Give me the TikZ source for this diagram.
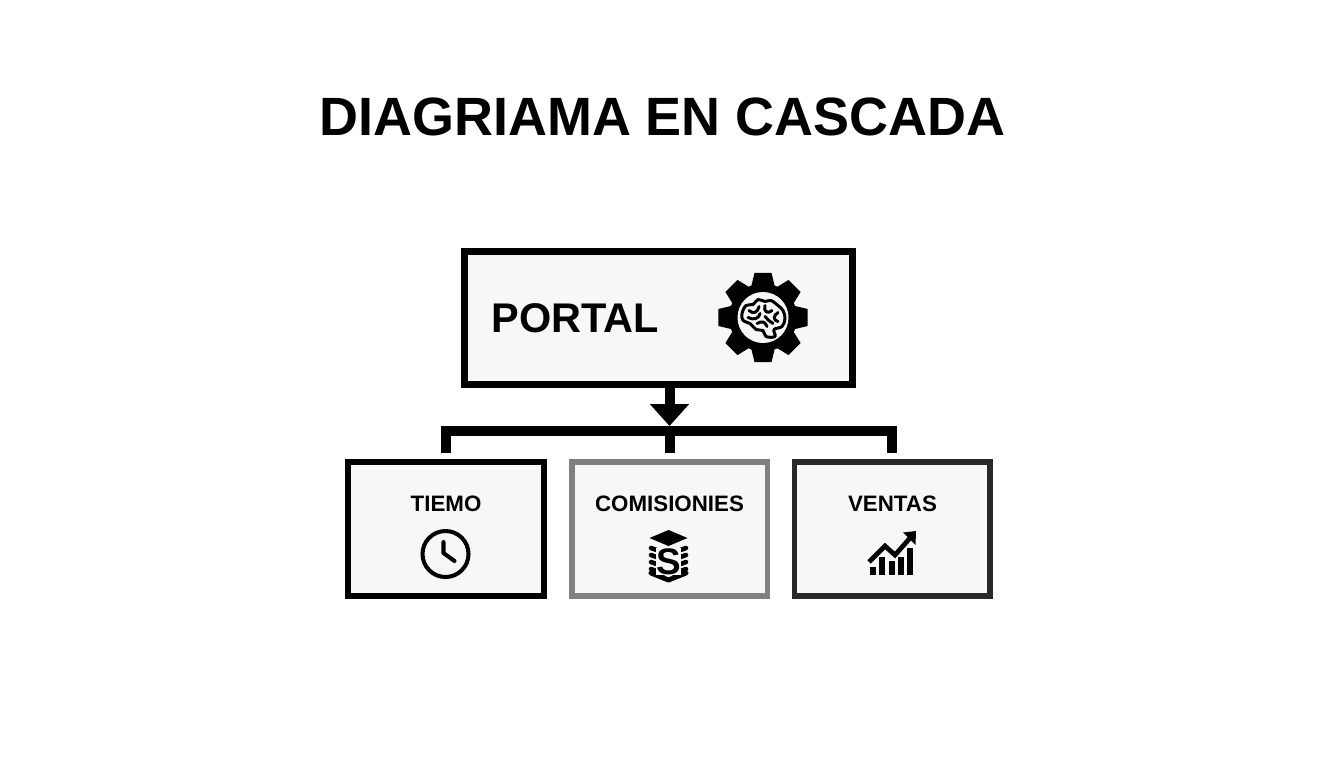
\documentclass[tikz,border=0pt]{standalone}
\usepackage{fontspec}
\setmainfont{Liberation Sans}
\usetikzlibrary{arrows.meta,positioning}
\definecolor{boxfill}{HTML}{F7F7F6}
\tikzset{>={Triangle[width=0.76cm,length=0.44cm]},
  main box/.style={draw=black,fill=boxfill,line width=4pt,minimum width=7.76cm,minimum height=2.66cm,inner sep=0pt},
  sub box/.style={draw=black,fill=boxfill,line width=3.4pt,minimum width=3.92cm,minimum height=2.68cm,inner sep=0pt},
  sub label/.style={inner sep=0pt,font=\fontsize{12.7}{14}\selectfont\bfseries},
  bus/.style={line width=0.2cm,draw=black},
  icon/.style={line width=2.3pt,draw=black,line cap=round,line join=round},
  brain line/.style={icon,line width=1.7pt}}

\begin{document}
\begin{tikzpicture}[x=0.02cm,y=-0.02cm]
    \useasboundingbox (0,0) rectangle (1344,768);
    \node[inner sep=0pt,font=\fontsize{30.7}{36}\selectfont\bfseries] (title) at (662.5,117) {DIAGRIAMA EN CASCADA};
    \node[main box] (portal) at (658.5,318) {};
    \node[sub box, on grid] (comisiones) [below right = 4.22cm and 0.22cm of portal, draw=black!50] {};
    \node[sub box, on grid] (tiemo) [left = 4.47cm of comisiones] {};
    \node[sub box, on grid] (ventas) [right = 4.46cm of comisiones, draw=black!84] {};
    \node[inner sep=0pt,anchor=west,font=\fontsize{23.6}{28}\selectfont\bfseries] (portal label) [right = 0.6cm of portal.west] {PORTAL};
    \node[sub label] (tiemo label) [below = 0.74cm of tiemo.north] {TIEMO};
    \node[sub label] (comisiones label) [below = 0.74cm of comisiones.north] {COMISIONIES};
    \node[sub label] (ventas label) [below = 0.74cm of ventas.north] {VENTAS};
    \coordinate[above = 0.56cm of comisiones.north] (busc);
    \coordinate[above = 0.1cm of busc] (bustop);
    \draw[bus,shorten <=0.12cm,shorten >=0.12cm] (tiemo.north) |- (busc) -| (ventas.north);
    \draw[bus,shorten >=0.12cm] (busc) -- (comisiones.north);
    \draw[bus,->] (portal.south -| busc) -- (bustop);
    \begin{scope}[shift={(763,317.5)}]
      \foreach \a in {0,45,...,315}
        \fill[rotate=\a] (-12,-30) -- (-8.5,-44.7) -- (8.5,-44.7) -- (12,-30) -- cycle;
      \fill (0,0) circle (34);
      \fill[boxfill] (0,0) circle (25.5);
      \draw[brain line] plot[smooth cycle,tension=0.6] coordinates {(-21,-4) (-17,-12) (-10,-13) (-5,-18) (2,-16) (8,-17) (15,-12) (20,-7) (22,1) (19,9) (11,12) (12,19) (3,19) (0,13) (-7,12) (-13,6) (-20,3)};
      \draw[brain line] (-14,-7) .. controls (-10,-3) and (-5,-5) .. (-4,-11);
      \draw[brain line] (-15,0) .. controls (-9,3) and (-4,1) .. (-3,-4);
      \draw[brain line] (2,-12) .. controls (0,-6) and (5,-3) .. (9,-7);
      \draw[brain line] (15,-5) .. controls (10,-2) and (10,3) .. (15,4);
      \draw[brain line] (-6,6) .. controls (-1,3) and (2,4) .. (4,9);
      \draw[brain line] (2,-1) .. controls (4,2) and (7,4) .. (10,6);
    \end{scope}
    \begin{scope}[shift={(445.5,554)}]
      \draw[icon] (0,0) circle (23);
      \draw[icon] (-2,-12) -- (-2,-1) -- (9,7);
    \end{scope}
    \begin{scope}[shift={(668.5,562)}]
      \fill (-19,-24) -- (0,-32) -- (19,-24) -- (0,-16) -- cycle;
      \foreach \y in {-14,-7,0,7}{
        \draw[icon,line width=2.6pt] (-17.5,\y) -- (-5,\y+4.5);
        \draw[icon,line width=2.6pt] (17.5,\y) -- (5,\y+4.5);
      }
      \draw[icon,line width=2.8pt] (-17.5,11) -- (0,18) -- (17.5,11);
      \node[inner sep=0pt,fill=boxfill,font=\fontsize{21}{21}\selectfont\bfseries] (stack s) at (0,-0.5) {S};
    \end{scope}
    \begin{scope}[shift={(850,520)}]
      \foreach \xa/\ya in {20/47,29.3/37,38.7/41,48/37,57.3/28}
        \fill (\xa,\ya) rectangle (\xa+6,55);
      \draw[icon,line width=2.7pt,line cap=butt,line join=miter] (19,42) -- (35,26) -- (45,35) -- (60,18);
      \fill (53,12.5) -- (66,11) -- (65.5,25) -- cycle;
    \end{scope}
  \end{tikzpicture}
\end{document}
